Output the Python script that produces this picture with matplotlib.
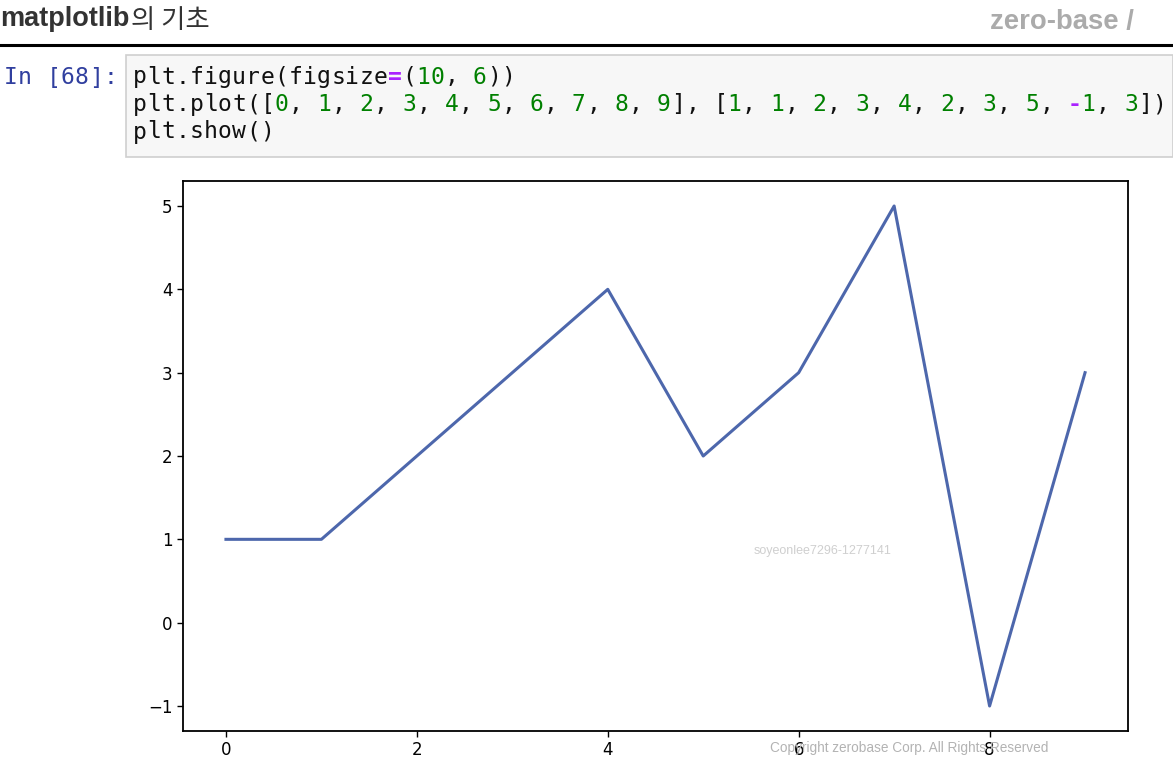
import matplotlib
matplotlib.use("Agg")
import matplotlib.pyplot as plt

W, H = 1173, 775

x_vals = [0, 1, 2, 3, 4, 5, 6, 7, 8, 9]
y_vals = [1, 1, 2, 3, 4, 2, 3, 5, -1, 3]

title_main = "matplotlib"
title_kr = "의 기초"
brand = "zero-base /"
prompt = "In [68]:"
code_lines = [
    "plt.figure(figsize=(10, 6))",
    "plt.plot([%s], [%s])" % (", ".join(str(v) for v in x_vals),
                              ", ".join(str(v) for v in y_vals)),
    "plt.show()",
]
user_mark = "soyeonlee7296-1277141"
copyright_mark = "Copyright zerobase Corp. All Rights Reserved"


def px(x, y):
    # pixel coords (from top-left) -> figure fraction
    return x / W, 1 - y / H


fig = plt.figure(figsize=(W / 100, H / 100), dpi=100)
fig.patch.set_facecolor("white")

# header
fig.text(*px(0, 19), title_main, fontsize=19.5, fontweight="bold",
         family=["Liberation Sans", "DejaVu Sans"], color="#333333", va="center")
fig.text(*px(131, 21), title_kr, fontsize=19, family="Noto Sans CJK KR",
         color="#333333", va="center")
fig.text(*px(990, 22), brand, fontsize=19.8, fontweight="bold",
         family=["Liberation Sans", "DejaVu Sans"], color="#ababab", va="center")
fig.add_artist(plt.Line2D([0, 1], [1 - 45 / H] * 2, color="black", lw=2.2,
                          transform=fig.transFigure))

# code cell
fig.add_artist(plt.Rectangle(px(126, 157), (W - 126) / W, (157 - 55) / H,
                             transform=fig.transFigure, facecolor="#f7f7f7",
                             edgecolor="#cfcfcf", lw=1.2))
cw = 14.16
mono = "DejaVu Sans Mono"
fsize = 16.6
for i, ch in enumerate(prompt):
    fig.text(*px(4 + i * cw, 78), ch, family=mono, fontsize=fsize,
             color="#303f9f", va="center")

for row, line in enumerate(code_lines):
    y = 77 + row * 27.5
    for i, ch in enumerate(line):
        if ch == " ":
            continue
        if ch.isdigit():
            col, wt = "#008000", "normal"
        elif ch in "=-":
            col, wt = "#aa22ff", "bold"
        else:
            col, wt = "#111111", "normal"
        fig.text(*px(133 + i * cw, y), ch, family=mono, fontsize=fsize,
                 color=col, fontweight=wt, va="center")

# chart
left, right, top, bottom = 183, 1128, 181, 731
ax = fig.add_axes([left / W, 1 - bottom / H, (right - left) / W, (bottom - top) / H])
ax.plot(x_vals, y_vals, color="#4d67ac", lw=2.2)
ax.tick_params(labelsize=12, length=4, width=1)
for s in ax.spines.values():
    s.set_linewidth(1.3)

# watermarks (they sit on top of the chart in the screenshot)
fig.text(*px(754, 551), user_mark, fontsize=9, family="Liberation Sans",
         color="#cfcfcf", va="center", zorder=5)
fig.text(*px(770, 748), copyright_mark, fontsize=9.85, family="Liberation Sans",
         color="#b3b3b3", va="center", zorder=5)

fig.savefig("out.png", dpi=100)
